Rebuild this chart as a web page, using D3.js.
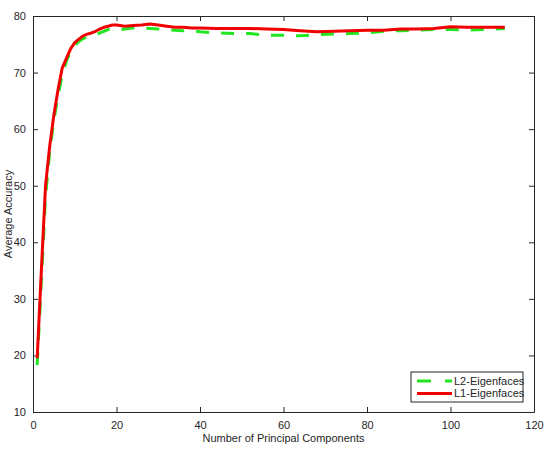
<!DOCTYPE html>
<html>
<head>
<meta charset="utf-8">
<script src="https://cdn.jsdelivr.net/npm/d3@7"></script>
<style>
	body { margin: 0; background: #fff; }
	svg { display: block; font-family: "Liberation Sans", Arial, Helvetica, sans-serif; }
	.axis path, .axis line { stroke: #262626; }
	.axis text { fill: #262626; font-size: 11px; }
	.label { fill: #262626; font-size: 11px; }
</style>
</head>
<body>
<div id="plot"></div>
<script>
const components = [1, 2, 3, 4, 5, 6, 7, 8, 9, 10, 11, 12, 13, 14, 15, 16, 17, 18, 19, 20,
	22, 24, 26, 28, 30, 32, 34, 36, 38, 40, 44, 48, 52, 56, 60, 64, 68, 72, 76, 80,
	84, 88, 92, 96, 100, 104, 108, 113];

const l2Accuracy = [18.3, 33, 48, 56, 61.5, 66, 69.5, 72, 73.8, 74.8, 75.5, 76, 76.3, 76.5, 76.6, 77.0, 77.3, 77.6, 77.7, 77.5,
	77.7, 77.9, 77.9, 77.8, 77.7, 77.6, 77.5, 77.4, 77.4, 77.2, 77.0, 76.9, 76.9, 76.6, 76.6, 76.5, 76.7, 76.8, 76.9, 77.0,
	77.3, 77.4, 77.5, 77.6, 77.6, 77.5, 77.6, 77.8];

const l1Accuracy = [19.5, 35, 50, 57, 62.5, 67, 70.8, 72.5, 74.2, 75.3, 75.9, 76.5, 76.8, 77.0, 77.3, 77.7, 78.0, 78.2, 78.4, 78.4,
	78.2, 78.3, 78.4, 78.6, 78.4, 78.2, 78.0, 78.0, 77.9, 77.9, 77.8, 77.8, 77.8, 77.7, 77.6, 77.4, 77.2, 77.3, 77.4, 77.5,
	77.5, 77.7, 77.7, 77.8, 78.1, 78.0, 78.0, 78.0];

const xTicks = [0, 20, 40, 60, 80, 100, 120];
const yTicks = [10, 20, 30, 40, 50, 60, 70, 80];

const series = [
	{ name: "L2-Eigenfaces", values: l2Accuracy, color: "#22e622", dash: "13,12" },
	{ name: "L1-Eigenfaces", values: l1Accuracy, color: "#f00000", dash: null }
];

const svgWidth = 546, svgHeight = 450;
const margin = {top: 16, right: 12, bottom: 38, left: 33};
const width = svgWidth - margin.left - margin.right;
const height = svgHeight - margin.top - margin.bottom;

const svg = d3.select("#plot").append("svg")
	.attr("width", svgWidth)
	.attr("height", svgHeight);

const g = svg.append("g")
	.attr("transform", "translate(" + margin.left + "," + margin.top + ")");

const x = d3.scaleLinear().domain([0, 120]).range([0, width]);
const y = d3.scaleLinear().domain([10, 80]).range([height, 0]);

// matlab style: ticks point inward, box on all sides
g.append("g")
	.attr("class", "axis axis--x")
	.attr("transform", "translate(0," + height + ")")
	.call(d3.axisBottom(x).tickValues(xTicks).tickSizeInner(-5).tickSizeOuter(0).tickPadding(9));

g.append("g")
	.attr("class", "axis axis--y")
	.call(d3.axisLeft(y).tickValues(yTicks).tickSizeInner(-5).tickSizeOuter(0).tickPadding(7));

g.append("g")
	.attr("class", "axis")
	.call(d3.axisTop(x).tickValues(xTicks).tickSizeInner(-5).tickSizeOuter(0).tickFormat(() => ''));

g.append("g")
	.attr("class", "axis")
	.attr("transform", "translate(" + width + ",0)")
	.call(d3.axisRight(y).tickValues(yTicks).tickSizeInner(-5).tickSizeOuter(0).tickFormat(() => ''));

const line = d3.line()
	.x((d, i) => x(components[i]))
	.y(d => y(d));

series.forEach(s => {
	g.append("path")
		.datum(s.values)
		.attr("fill", "none")
		.attr("stroke", s.color)
		.attr("stroke-width", 3)
		.attr("stroke-linejoin", "round")
		.attr("stroke-dasharray", s.dash)
		.attr("d", line);
});

// axis labels
g.append("text")
	.attr("class", "label")
	.attr("x", width / 2)
	.attr("y", height + 30)
	.attr("text-anchor", "middle")
	.text("Number of Principal Components");

g.append("text")
	.attr("class", "label")
	.attr("transform", "translate(-21," + height / 2 + ") rotate(-90)")
	.attr("text-anchor", "middle")
	.text("Average Accuracy");

// legend
const legend = svg.append("g")
	.attr("transform", "translate(411,372)");

legend.append("rect")
	.attr("width", 112)
	.attr("height", 30)
	.attr("fill", "#fff")
	.attr("stroke", "#262626")
	.attr("stroke-width", 1);

series.forEach((s, i) => {
	const row = legend.append("g")
		.attr("transform", "translate(0," + (9 + i * 12.5) + ")");

	row.append("line")
		.attr("x1", 6)
		.attr("x2", 41)
		.attr("stroke", s.color)
		.attr("stroke-width", 3)
		.attr("stroke-dasharray", s.dash ? "14,14" : null);

	row.append("text")
		.attr("class", "label")
		.attr("x", 43)
		.attr("dy", "0.35em")
		.text(s.name);
});
</script>
</body>
</html>
